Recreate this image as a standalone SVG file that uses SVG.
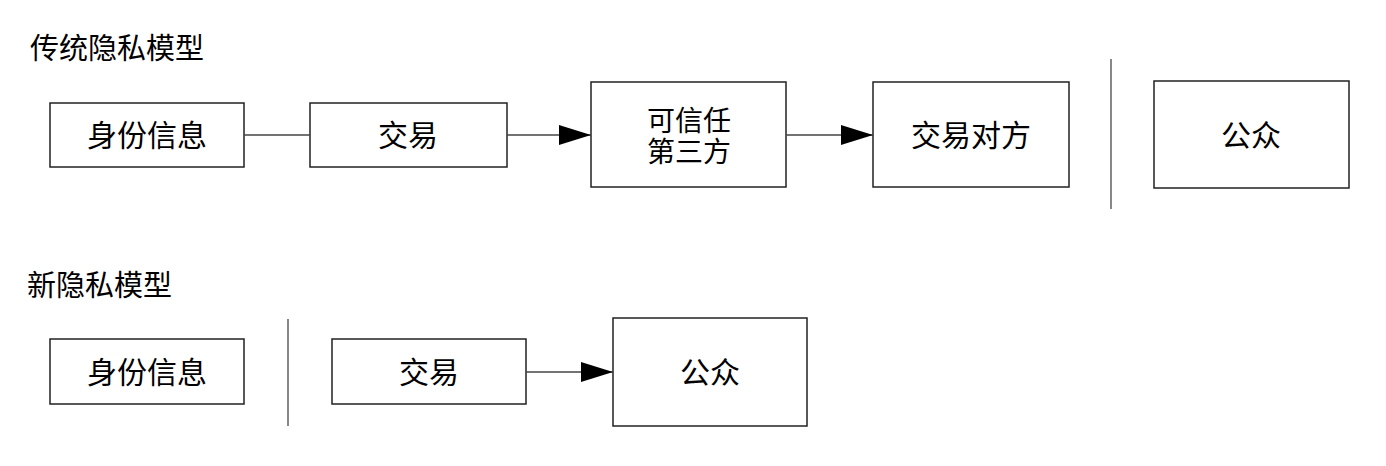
<svg xmlns="http://www.w3.org/2000/svg" width="1386" height="466" viewBox="0 0 1386 466">
<style>
.box{fill:#fff;stroke:#222;stroke-width:1.5}
.t{font-family:"Liberation Sans","Noto Sans CJK SC",sans-serif;font-size:30px;fill:#000;text-anchor:middle}
.t2{font-size:28px}
.title{font-family:"Liberation Sans","Noto Sans CJK SC",sans-serif;font-size:29px;fill:#000}
.conn{stroke:#444;stroke-width:1.5;fill:none}
.sep{stroke:#888;stroke-width:2;fill:none}
</style>
<defs>
<marker id="arr" markerUnits="userSpaceOnUse" markerWidth="34" markerHeight="22" refX="32" refY="10" orient="auto">
<path d="M0,0 L32,10 L0,20 Z" fill="#000"/>
</marker>
</defs>
<text class="title" x="30" y="59">传统隐私模型</text>
<text class="title" x="27" y="296">新隐私模型</text>
<g id="n1"><rect class="box" x="50" y="103" width="194" height="64"/><text class="t" x="147" y="146">身份信息</text></g>
<g id="n2"><rect class="box" x="310" y="103" width="197" height="64"/><text class="t" x="408" y="146">交易</text></g>
<g id="n3"><rect class="box" x="591" y="82" width="195" height="105"/><text class="t t2" x="689" y="131">可信任</text><text class="t t2" x="689" y="162">第三方</text></g>
<g id="n4"><rect class="box" x="873" y="82" width="196" height="105"/><text class="t" x="971" y="146">交易对方</text></g>
<g id="n5"><rect class="box" x="1154" y="81" width="195" height="107"/><text class="t" x="1251" y="146">公众</text></g>
<g id="n6"><rect class="box" x="50" y="339" width="194" height="65"/><text class="t" x="147" y="383">身份信息</text></g>
<g id="n7"><rect class="box" x="332" y="339" width="194" height="65"/><text class="t" x="429" y="383">交易</text></g>
<g id="n8"><rect class="box" x="613" y="318" width="194" height="108"/><text class="t" x="710" y="383">公众</text></g>
<g id="connectors">
<line class="conn" x1="244" y1="135" x2="310" y2="135"/>
<line class="conn" x1="507" y1="135" x2="591" y2="135" marker-end="url(#arr)"/>
<line class="conn" x1="786" y1="135" x2="873" y2="135" marker-end="url(#arr)"/>
<line class="conn" x1="526" y1="372" x2="613" y2="372" marker-end="url(#arr)"/>
</g>
<g id="separators">
<line class="sep" x1="1111" y1="59" x2="1111" y2="209"/>
<line class="sep" x1="288" y1="319" x2="288" y2="426"/>
</g>
</svg>
